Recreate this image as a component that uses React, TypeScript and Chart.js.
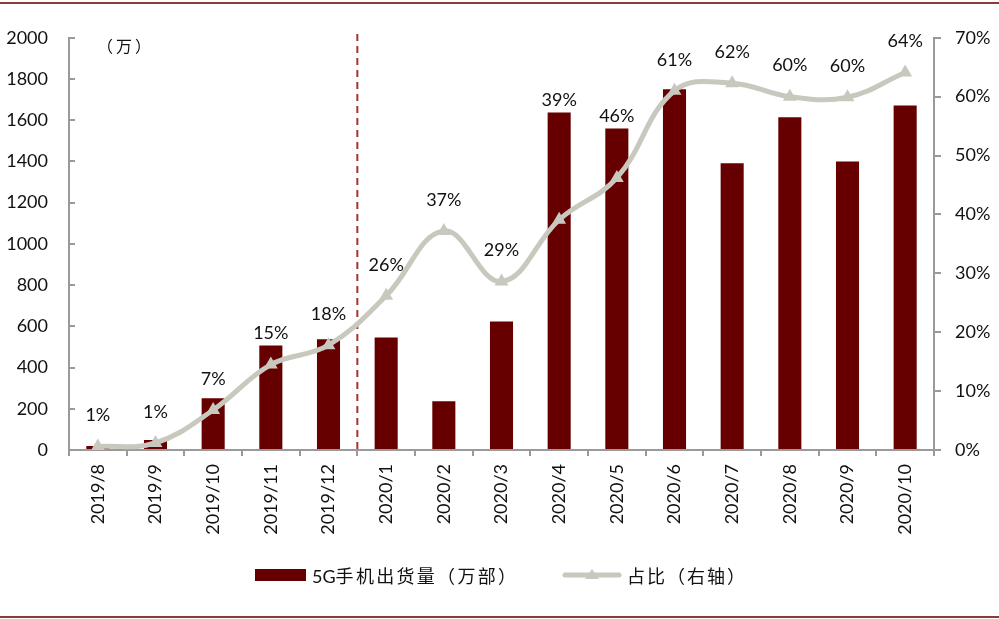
import { useEffect, useRef } from 'react'
import { Chart, registerables, type Plugin } from 'chart.js'

Chart.register(...registerables)

const MONTHS = [
  '2019/8', '2019/9', '2019/10', '2019/11', '2019/12',
  '2020/1', '2020/2', '2020/3', '2020/4', '2020/5',
  '2020/6', '2020/7', '2020/8', '2020/9', '2020/10',
]
// 5G handset shipments, 10k units
const SHIPMENTS = [19, 48, 251, 507, 537, 546, 237, 623, 1638, 1560, 1750, 1391, 1614, 1400, 1672]
// 5G share of all handsets, %
const SHARE = [0.6, 1.2, 6.8, 14.5, 17.8, 26.2, 37.2, 28.6, 39.1, 46.2, 61.0, 62.3, 60.0, 59.9, 64.1]
const SHARE_LABELS = ['1%', '1%', '7%', '15%', '18%', '26%', '37%', '29%', '39%', '46%', '61%', '62%', '60%', '60%', '64%']
const SPLIT_AFTER = 4 // dashed line between 2019/12 and 2020/1

const BAR = '#660000'
const LINE = '#c8c8be'
const AXIS = '#9a9a9a'
const FRAME = '#8c3b3b'
const FONT = "Lato, 'Liberation Sans', sans-serif"
const CJK = "'Noto Sans CJK SC', sans-serif"

// share labels sit above the marker, and are lifted clear of the bar when it is taller
const labelsPlugin: Plugin<'bar'> = {
  id: 'shareLabels',
  afterDatasetsDraw(chart) {
    const bars = chart.getDatasetMeta(0)
    const meta = chart.getDatasetMeta(1)
    const ctx = chart.ctx
    ctx.save()
    ctx.font = `18px ${FONT}`
    ctx.fillStyle = '#111'
    ctx.textAlign = 'center'
    ctx.textBaseline = 'middle'
    meta.data.forEach((pt, i) => {
      const barTop = bars.data[i].y
      const y = Math.min(pt.y - 31, barTop - 12)
      ctx.fillText(SHARE_LABELS[i], pt.x, y)
    })
    ctx.restore()
  },
}

const splitPlugin: Plugin<'bar'> = {
  id: 'splitLine',
  beforeDatasetsDraw(chart) {
    const x = chart.scales.x
    const px = (x.getPixelForValue(SPLIT_AFTER) + x.getPixelForValue(SPLIT_AFTER + 1)) / 2
    const ctx = chart.ctx
    ctx.save()
    ctx.strokeStyle = '#a83232'
    ctx.lineWidth = 2
    ctx.setLineDash([7, 5])
    ctx.beginPath()
    ctx.moveTo(px, 34)
    ctx.lineTo(px, chart.chartArea.bottom)
    ctx.stroke()
    ctx.restore()
  },
}

export default function App() {
  const canvasRef = useRef<HTMLCanvasElement>(null)

  useEffect(() => {
    const canvas = canvasRef.current
    if (!canvas) return
    Chart.getChart(canvas)?.destroy()
    const chart = new Chart(canvas, {
      type: 'bar',
      data: {
        labels: MONTHS,
        datasets: [
          {
            label: '5G手机出货量（万部）',
            data: SHIPMENTS,
            backgroundColor: BAR,
            barPercentage: 0.4,
            categoryPercentage: 1,
            yAxisID: 'y',
            order: 2,
          },
          {
            type: 'line',
            label: '占比（右轴）',
            data: SHARE,
            borderColor: LINE,
            borderWidth: 5,
            tension: 0.4,
            pointStyle: 'triangle',
            pointRadius: 8,
            pointBackgroundColor: LINE,
            pointBorderWidth: 0,
            yAxisID: 'y1',
            order: 1,
          } as any,
        ],
      },
      options: {
        responsive: false,
        animation: false,
        layout: { padding: { top: 36, left: 0, right: 0, bottom: 0 } },
        plugins: { legend: { display: false }, tooltip: { enabled: false } },
        scales: {
          x: {
            offset: true,
            grid: { offset: true, drawOnChartArea: false, tickLength: 6, color: AXIS, lineWidth: 2 },
            border: { color: AXIS, width: 2 },
            ticks: { color: '#111', minRotation: 90, maxRotation: 90, padding: 8, font: { family: FONT, size: 18 } },
            afterFit: (s: any) => { s.height = 169 },
          },
          y: {
            position: 'left',
            min: 0,
            max: 2000,
            ticks: { stepSize: 200, color: '#111', padding: 27, font: { family: FONT, size: 18 }, callback: (v) => `${v}` },
            grid: { drawOnChartArea: false, tickLength: -6, color: AXIS, lineWidth: 2 },
            border: { color: AXIS, width: 2 },
            afterFit: (s: any) => { s.width = 69 },
          },
          y1: {
            position: 'right',
            min: 0,
            max: 70,
            ticks: { stepSize: 10, color: '#111', padding: 14, font: { family: FONT, size: 18 }, callback: (v) => `${v}%` },
            grid: { drawOnChartArea: false, tickLength: 7, color: AXIS, lineWidth: 2 },
            border: { color: AXIS, width: 2 },
            afterFit: (s: any) => { s.width = 65 },
          },
        },
      },
      plugins: [splitPlugin, labelsPlugin],
    })
    return () => chart.destroy()
  }, [])

  const cjkText = { position: 'absolute' as const, fontFamily: CJK, color: '#111', whiteSpace: 'nowrap' as const }

  return (
    <div style={{ position: 'absolute', left: 0, top: 0, width: 999, height: 619, background: '#fff' }}>
      <canvas ref={canvasRef} width={999} height={619} style={{ position: 'absolute', left: 0, top: 0 }} />
      <div style={{ position: 'absolute', left: 0, top: 2, width: 999, height: 2, background: FRAME }} />
      <div style={{ position: 'absolute', left: 0, top: 616, width: 999, height: 2, background: FRAME }} />
      <div style={{ ...cjkText, left: 97, top: 34, fontSize: 16, lineHeight: '22px', letterSpacing: 3 }}>（万）</div>
      <div style={{ position: 'absolute', left: 255, top: 569, width: 51, height: 12, background: BAR }} />
      <div style={{ ...cjkText, left: 312, top: 563, fontSize: 18, lineHeight: '24px' }}>
        <span style={{ fontFamily: FONT }}>5G</span>
        <span style={{ letterSpacing: 2.3 }}>手机出货量（万部）</span>
      </div>
      <svg style={{ position: 'absolute', left: 562, top: 566 }} width={60} height={18}>
        <line x1={3} y1={9} x2={57} y2={9} stroke={LINE} strokeWidth={5} strokeLinecap="round" />
        <polygon points="30,3 37,13 23,13" fill={LINE} />
      </svg>
      <div style={{ ...cjkText, left: 627, top: 563, fontSize: 18, lineHeight: '24px', letterSpacing: 2 }}>占比（右轴）</div>
    </div>
  )
}
